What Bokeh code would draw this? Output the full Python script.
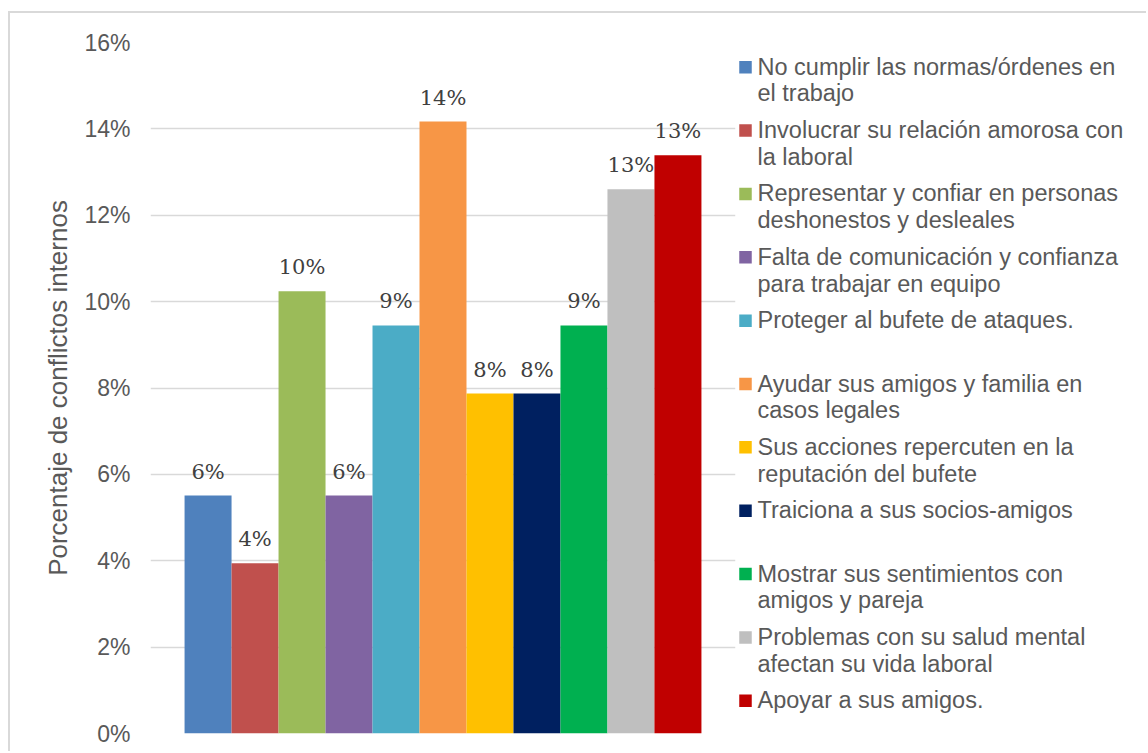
import textwrap
from bokeh.plotting import figure
from bokeh.models import (ColumnDataSource, FactorRange, Range1d, NumeralTickFormatter,
                          FixedTicker, LabelSet)
from bokeh.layouts import row
from bokeh.embed import file_html
from bokeh.resources import INLINE
from bokeh.core.properties import value

# ---------------- data ----------------
categories = [
    "No cumplir las normas/órdenes en el trabajo",
    "Involucrar su relación amorosa con la laboral",
    "Representar y confiar en personas deshonestos y desleales",
    "Falta de comunicación y confianza para trabajar en equipo",
    "Proteger al bufete de ataques.",
    "Ayudar sus amigos y familia en casos legales",
    "Sus acciones repercuten en la reputación del bufete",
    "Traiciona a sus socios-amigos",
    "Mostrar sus sentimientos con amigos y pareja",
    "Problemas con su salud mental afectan su vida laboral",
    "Apoyar a sus amigos.",
]
percent = [5.51, 3.94, 10.24, 5.51, 9.45, 14.17, 7.87, 7.87, 9.45, 12.60, 13.39]
colors = ["#4F81BD", "#C0504D", "#9BBB59", "#8064A2", "#4BACC6", "#F79646",
          "#FFC000", "#002060", "#00B050", "#BFBFBF", "#C00000"]
y_ticks = [0, 2, 4, 6, 8, 10, 12, 14, 16]
y_title = "Porcentaje de conflictos internos"

GRAY = "#595959"
SANS = "Liberation Sans"

share = [v / 100 for v in percent]
bar_labels = [f"{round(v)}%" for v in percent]
src = ColumnDataSource(dict(cat=categories, share=share, color=colors, label=bar_labels))

# layout (page pixels)
H = 738
TOP_B, BOT_B = 29, 18
FRAME_TOP = 13 + TOP_B
FRAME_BOTTOM = 13 + H - BOT_B

# ---------------- main chart ----------------
p = figure(x_range=FactorRange(factors=categories, range_padding=0.1318),
           y_range=Range1d(0, 0.16),
           width=728, height=H, output_backend="svg", toolbar_location=None,
           min_border_left=140, min_border_right=3,
           min_border_top=TOP_B, min_border_bottom=BOT_B)
p.vbar(x="cat", top="share", width=1.0, fill_color="color", line_color=None, source=src)

p.xaxis.visible = False
p.xgrid.visible = False
p.outline_line_color = None

yt = FixedTicker(ticks=[t / 100 for t in y_ticks])
p.yaxis.ticker = yt
p.ygrid.ticker = yt
p.yaxis.formatter = NumeralTickFormatter(format="0%")
p.yaxis.axis_line_color = None
p.yaxis.major_tick_line_color = None
p.yaxis.minor_tick_line_color = None
p.yaxis.major_label_standoff = 14
p.yaxis.major_label_text_font = SANS
p.yaxis.major_label_text_font_size = "23px"
p.yaxis.major_label_text_color = GRAY
p.yaxis.axis_label = y_title
p.yaxis.axis_label_text_font = SANS
p.yaxis.axis_label_text_font_style = "normal"
p.yaxis.axis_label_text_font_size = "26px"
p.yaxis.axis_label_text_color = GRAY
p.yaxis.axis_label_standoff = 8
p.ygrid.grid_line_color = "#D9D9D9"
p.ygrid.grid_line_width = 1.3

labels = LabelSet(x="cat", y="share", text="label", source=src,
                  text_align="center", text_baseline="alphabetic", y_offset=17,
                  text_font=value("DejaVu Serif"), text_font_size="21px",
                  text_color="#404040")
p.add_layout(labels)

# ---------------- legend ----------------
LW = 408
leg = figure(width=LW, height=H, x_range=Range1d(0, LW),
             y_range=Range1d(FRAME_BOTTOM, FRAME_TOP),
             output_backend="svg", toolbar_location=None,
             min_border_left=0, min_border_right=0,
             min_border_top=TOP_B, min_border_bottom=BOT_B,
             x_axis_location=None, y_axis_location=None)
leg.grid.visible = False
leg.outline_line_color = None

first, step = 66.7, 63.36
sq_y = [first + step * i for i in range(len(categories))]
txt_y = [y - 13.5 for y in sq_y]
wrapped = [textwrap.fill(c, 34, break_on_hyphens=False) for c in categories]

leg.rect(x=7, y=sq_y, width=12.5, height=12.5, width_units="screen", height_units="screen",
         fill_color=colors, line_color=None)
leg.text(x=19, y=txt_y, text=wrapped, text_baseline="top", text_align="left",
         text_font=value(SANS), text_font_size="23.5px", text_color=GRAY,
         text_line_height=1.03)

layout = row(p, leg, styles={"border-left": "2px solid #D9D9D9",
                             "border-top": "2px solid #D9D9D9",
                             "margin-top": "11px", "margin-left": "8px"})

open("out.html", "w").write(file_html(layout, INLINE))
